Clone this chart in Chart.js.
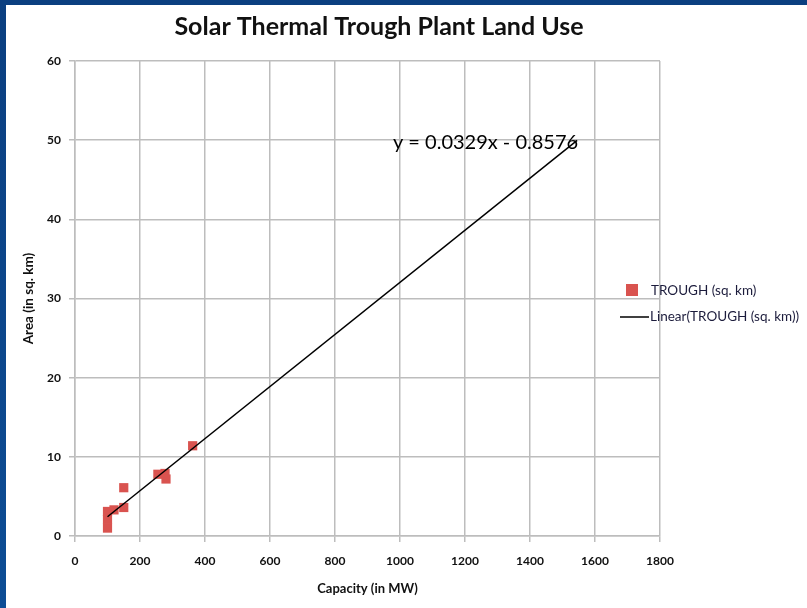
<!DOCTYPE html>
<html>
<head>
<meta charset="utf-8">
<script src="https://cdn.jsdelivr.net/npm/chart.js@4.4.0/dist/chart.umd.min.js"></script>
<style>
  html, body { margin: 0; padding: 0; background: #0c4a8e; }
  canvas { display: block; }
</style>
</head>
<body>
<canvas id="chart" width="807" height="608"></canvas>
<script>
// Plant capacity (MW) and land area (sq. km) for trough plants
const capacityMW = [100, 100, 100, 120, 150, 150, 255, 277, 280, 362];
const areaSqKm   = [1.0, 2.1, 3.1, 3.3, 3.6, 6.1, 7.8, 7.9, 7.2, 11.4];

// Linear fit of area against capacity, and the x range it is drawn over
const trendSlope = 0.0329;
const trendIntercept = -0.8576;
const trendStartMW = 100;
const trendEndMW = 1545;

// Axis tick values
const xTickValues = [0, 200, 400, 600, 800, 1000, 1200, 1400, 1600, 1800];
const yTickValues = [0, 10, 20, 30, 40, 50, 60];

const titleText = 'Solar Thermal Trough Plant Land Use';
const xAxisTitle = 'Capacity (in MW)';
const yAxisTitle = 'Area (in sq. km)';
const seriesName = 'TROUGH (sq. km)';
const trendName = 'Linear(TROUGH (sq. km))';

const pointColor = '#d9534f';
const gridColor = '#bdbdbd';
const textColor = '#111111';
const baseFont = 'Lato, "Open Sans", sans-serif';

const scatterPoints = capacityMW.map((x, i) => ({ x: x, y: areaSqKm[i] }));
const trendPoints = [trendStartMW, trendEndMW].map(x => ({ x: x, y: trendSlope * x + trendIntercept }));
const equationText = 'y = ' + trendSlope.toFixed(4) + 'x - ' + Math.abs(trendIntercept).toFixed(4);

// Slide backdrop: blue frame with a white panel
const backdrop = {
  id: 'backdrop',
  beforeDraw(chart) {
    const ctx = chart.ctx;
    ctx.save();
    const g = ctx.createLinearGradient(0, 0, 0, chart.height);
    g.addColorStop(0, '#0b3f80');
    g.addColorStop(1, '#0d4d95');
    ctx.fillStyle = g;
    ctx.fillRect(0, 0, chart.width, chart.height);
    ctx.fillStyle = '#ffffff';
    ctx.fillRect(6, 5, chart.width - 6, chart.height - 5);
    ctx.restore();
  }
};

// Title, trendline equation and the side legend
const annotations = {
  id: 'annotations',
  afterDraw(chart) {
    const ctx = chart.ctx;
    const xs = chart.scales.x, ys = chart.scales.y;
    ctx.save();

    ctx.fillStyle = textColor;
    ctx.font = 'bold 25px ' + baseFont;
    ctx.textAlign = 'center';
    ctx.textBaseline = 'middle';
    ctx.fillText(titleText, 379, 27);

    const end = trendPoints[trendPoints.length - 1];
    ctx.font = '20px ' + baseFont;
    ctx.textAlign = 'right';
    ctx.fillStyle = '#000000';
    ctx.fillText(equationText, xs.getPixelForValue(end.x) + 1, ys.getPixelForValue(end.y) + 2);

    // legend
    const lx = 620;
    ctx.font = '13.5px ' + baseFont;
    ctx.textAlign = 'left';
    ctx.fillStyle = pointColor;
    ctx.fillRect(lx + 6, 284, 12, 12);
    ctx.fillStyle = '#1c1c3c';
    ctx.fillText(chart.data.datasets[0].label, lx + 31, 291);
    ctx.strokeStyle = '#000000';
    ctx.lineWidth = 1.5;
    ctx.beginPath();
    ctx.moveTo(lx, 317);
    ctx.lineTo(lx + 29, 317);
    ctx.stroke();
    ctx.fillText(chart.data.datasets[1].label, lx + 30, 317);
    ctx.restore();
  }
};

new Chart(document.getElementById('chart'), {
  type: 'scatter',
  data: {
    datasets: [
      {
        label: seriesName,
        data: scatterPoints,
        pointStyle: 'rect',
        pointRadius: 6.5,
        pointHoverRadius: 6.5,
        backgroundColor: pointColor,
        borderColor: pointColor,
        borderWidth: 0,
        order: 2
      },
      {
        label: trendName,
        type: 'line',
        data: trendPoints,
        borderColor: '#000000',
        borderWidth: 1.5,
        pointRadius: 0,
        fill: false,
        order: 1
      }
    ]
  },
  options: {
    responsive: false,
    animation: false,
    devicePixelRatio: 1,
    layout: { padding: { left: 0, top: 61, right: 147, bottom: 0 } },
    plugins: {
      legend: { display: false },
      title: { display: false },
      tooltip: { enabled: false }
    },
    scales: {
      x: {
        type: 'linear',
        min: 0,
        max: 1800,
        afterBuildTicks(scale) { scale.ticks = xTickValues.map(v => ({ value: v })); },
        afterFit(scale) { scale.height = 72; },
        grid: { color: gridColor, lineWidth: 1.5, tickLength: 6, drawTicks: true },
        border: { color: gridColor, width: 1.5 },
        ticks: {
          color: textColor,
          font: { family: baseFont, size: 12, weight: 'bold' },
          padding: 12,
          maxRotation: 0,
          callback: v => String(v)
        },
        title: { display: true, text: xAxisTitle, color: textColor, font: { family: baseFont, size: 13, weight: 'bold' }, padding: { top: 0, bottom: 11 } }
      },
      y: {
        type: 'linear',
        min: 0,
        max: 60,
        afterBuildTicks(scale) { scale.ticks = yTickValues.map(v => ({ value: v })); },
        afterFit(scale) { scale.width = 75; },
        grid: { color: gridColor, lineWidth: 1.5, tickLength: 6, drawTicks: true },
        border: { color: gridColor, width: 1.5 },
        ticks: {
          color: textColor,
          font: { family: baseFont, size: 12, weight: 'bold' },
          padding: 8,
          callback: v => String(v)
        },
        title: { display: true, text: yAxisTitle, color: textColor, font: { family: baseFont, size: 13.5, weight: 'bold' }, padding: { top: 21 } }
      }
    }
  },
  plugins: [backdrop, annotations]
});
</script>
</body>
</html>
